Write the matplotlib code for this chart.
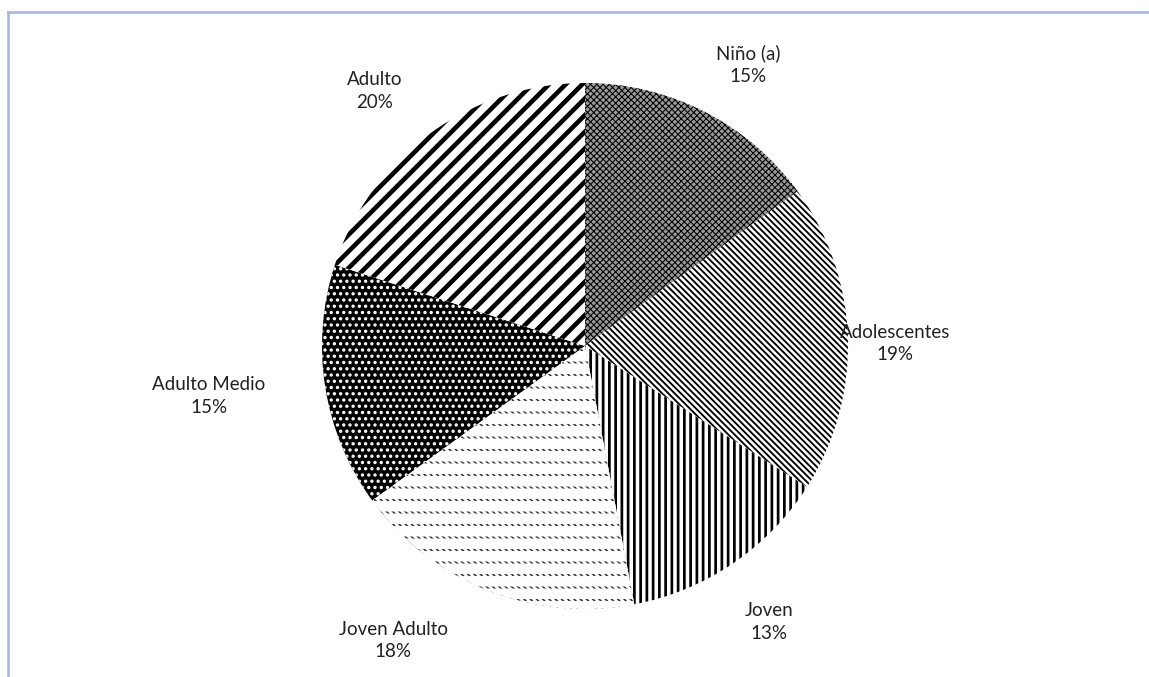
import matplotlib
matplotlib.use('Agg')
import matplotlib.pyplot as plt
from matplotlib.lines import Line2D

categorias = ["Niño (a)", "Adolescentes", "Joven", "Joven Adulto", "Adulto Medio", "Adulto"]
porcentajes = [15, 19, 13, 18, 15, 20]

# estilo de cada porcion (relleno, trama, color de trama, grosor)
rellenos = ["#9a9a9a", "white", "white", "white", "black", "white"]
tramas = ["xxxxxxxx", "\\\\\\\\\\\\\\\\", "||||", "\\\\\\\\\\\\\\\\", "....", "///"]
color_trama = ["black", "black", "black", "#333333", "white", "black"]
grosor_trama = [0.5, 0.9, 1.3, 0.8, 1.0, 2.2]

# posicion de las etiquetas (en radios desde el centro)
pos_etiquetas = [(0.62, 1.07), (1.18, 0.01), (0.70, -1.05), (-0.73, -1.12), (-1.43, -0.19), (-0.80, 0.97)]

plt.rcParams['font.family'] = ['Lato', 'DejaVu Sans']

fig = plt.figure(figsize=(1149 / 150, 677 / 150), dpi=150)
cx, cy, r = 585, 346, 263
ax = fig.add_axes([(cx - r) / 1149, (677 - cy - r) / 677, 2 * r / 1149, 2 * r / 677])

wedges, _ = ax.pie(porcentajes, startangle=90, counterclock=False,
                   wedgeprops=dict(linewidth=0))
for w, f, t, c, g in zip(wedges, rellenos, tramas, color_trama, grosor_trama):
    w.set_facecolor(f)
    w.set_edgecolor(c)
    w.set_hatch(t)
    if hasattr(w, "set_hatch_linewidth"):
        w.set_hatch_linewidth(g)

# "Joven Adulto": franjas blancas horizontales encima para cortar la trama en filas
capa, _ = ax.pie(porcentajes, startangle=90, counterclock=False,
                 wedgeprops=dict(linewidth=0))
for i, w in enumerate(capa):
    if i != 3:
        w.set_visible(False)
        continue
    w.set_fill(False)
    w.set_edgecolor("white")
    w.set_hatch("--")
    if hasattr(w, "set_hatch_linewidth"):
        w.set_hatch_linewidth(5.0)

ax.set_xlim(-1, 1)
ax.set_ylim(-1, 1)
ax.set_aspect('equal')
ax.axis('off')

for nombre, pct, (x, y) in zip(categorias, porcentajes, pos_etiquetas):
    ax.text(x, y, f"{nombre}\n{pct}%", ha='center', va='center', fontsize=9,
            linespacing=1.4, color='#222222')

# marco azul claro (recortado)
fig.add_artist(Line2D([8 / 1149, 8 / 1149], [0, 1 - 12 / 677], color='#a3b7e3', lw=1.2,
                      transform=fig.transFigure))
fig.add_artist(Line2D([8 / 1149, 1], [1 - 12 / 677, 1 - 12 / 677], color='#a3b7e3', lw=1.2,
                      transform=fig.transFigure))

plt.savefig("out.png", dpi=150)
plt.close()
